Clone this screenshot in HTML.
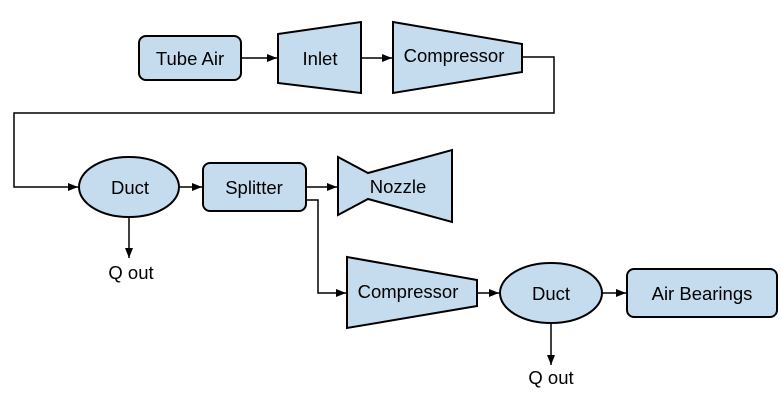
<!DOCTYPE html>
<html><head><meta charset="utf-8"><style>html,body{margin:0;padding:0;background:#fff}svg{display:block}</style></head>
<body>
<svg width="781" height="405" viewBox="0 0 781 405" xmlns="http://www.w3.org/2000/svg" font-family="Liberation Sans, Arial, sans-serif" font-size="18.5">
<defs><marker id="a" markerWidth="10" markerHeight="8" refX="10" refY="4" orient="auto" markerUnits="userSpaceOnUse"><path d="M0,0 L10,4 L0,8 z" fill="#000"/></marker></defs>
<g fill="#c5dbee" stroke="#000" stroke-width="2">
<rect x="139" y="36" width="102" height="44" rx="7"/>
<polygon points="278,34 361,22 361,93 278,83"/>
<polygon points="393,22 522,44 522,72 393,93"/>
<ellipse cx="129" cy="187" rx="50" ry="30"/>
<rect x="203" y="163" width="103" height="48" rx="7"/>
<polygon points="338,157 368,173 452,150 452,222 368,199 338,215"/>
<polygon points="347,257 477,280 477,306 347,328"/>
<ellipse cx="551" cy="293" rx="51" ry="30"/>
<rect x="627" y="269" width="150" height="48" rx="7"/>
</g>
<g fill="none" stroke="#000" stroke-width="1.5" marker-end="url(#a)">
<path d="M241,58 H277"/>
<path d="M361,58 H392"/>
<path d="M522,57 H554 V113 H14 V187 H78"/>
<path d="M179,187 H202"/>
<path d="M306,187 H337"/>
<path d="M306,200 H318 V293 H346"/>
<path d="M129,217 V258"/>
<path d="M477,293 H499"/>
<path d="M602,293 H626"/>
<path d="M551,323 V365"/>
</g>
<g fill="#000" text-anchor="middle">
<text x="190" y="65">Tube Air</text>
<text x="320" y="65">Inlet</text>
<text x="454" y="62">Compressor</text>
<text x="130" y="194">Duct</text>
<text x="254" y="194">Splitter</text>
<text x="398" y="193">Nozzle</text>
<text x="408" y="298">Compressor</text>
<text x="551" y="300">Duct</text>
<text x="702" y="300">Air Bearings</text>
<text x="131" y="279">Q out</text>
<text x="551" y="384">Q out</text>
</g>
</svg>
</body></html>
